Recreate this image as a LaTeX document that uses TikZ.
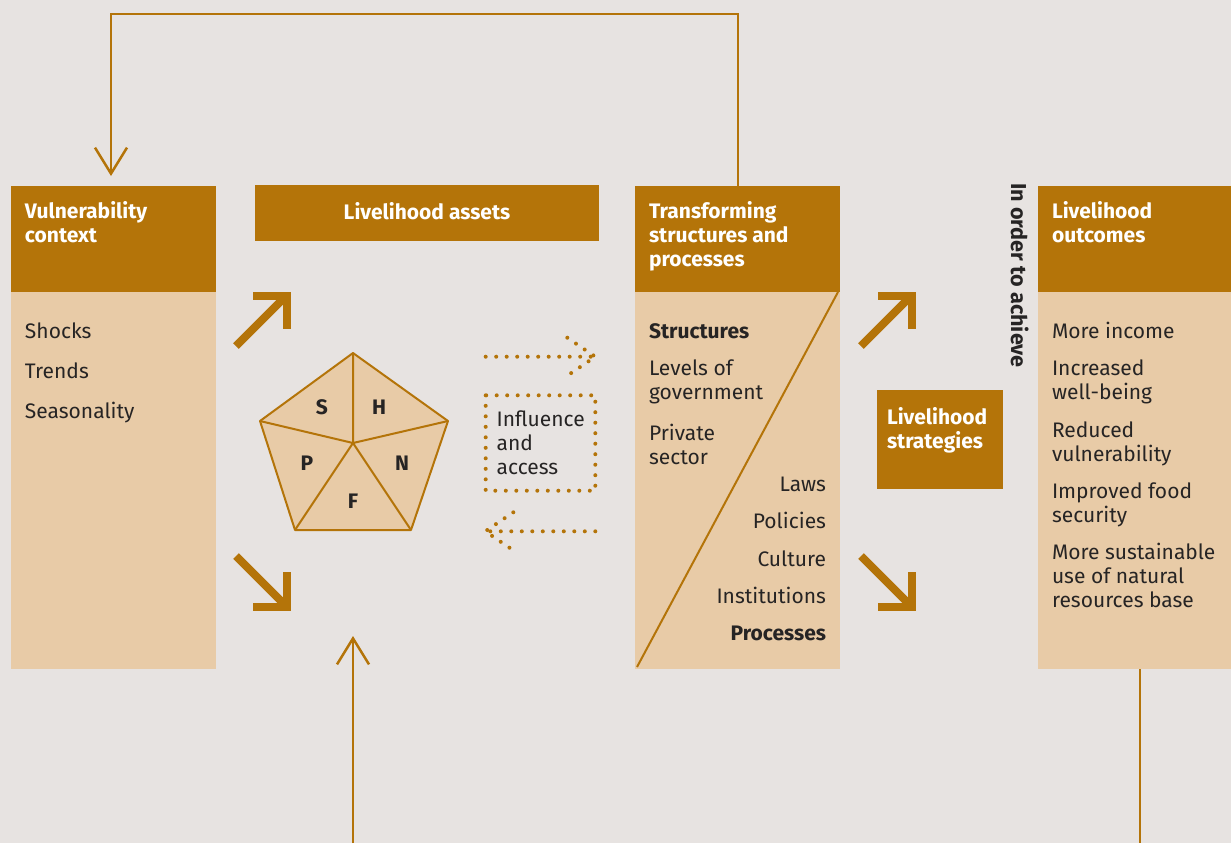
\documentclass[tikz,border=0pt]{standalone}
\usepackage{fontspec}
\setmainfont{Fira Sans}
\usetikzlibrary{arrows.meta}
\definecolor{bg}{RGB}{231,227,225}
\definecolor{dk}{RGB}{180,116,9}
\definecolor{lt}{RGB}{232,203,167}
\definecolor{tx}{RGB}{38,36,36}
\begin{document}
\begin{tikzpicture}[x=0.5pt,y=-0.5pt,
  txt/.style={anchor=north west, inner sep=0pt, outer sep=0pt, align=left, text=tx,
    font=\fontsize{10.5}{12}\selectfont, execute at begin node=\rule{0pt}{9pt}},
  rtxt/.style={txt, anchor=north east, align=right},
  btxt/.style={txt, font=\fontsize{10.5}{12}\selectfont\bfseries},
  hdr/.style={txt, text=white, font=\fontsize{10.5}{12}\selectfont\bfseries},
  fat/.style={draw=dk, line width=4pt, line join=miter, line cap=butt},
  conn/.style={draw=dk, line width=1.25pt, line join=miter},
  vtip/.style={-{Straight Barb[length=13pt,width=16pt,line width=1.25pt]}},
  dots/.style={draw=dk, line width=2pt, line cap=round, dash pattern=on 0pt off 5.25pt},
  pent/.style={draw=dk, line width=1pt, line join=round},
  plab/.style={inner sep=0pt, text=tx, font=\fontsize{10.5}{12}\selectfont\bfseries}
]
\useasboundingbox (0,0) rectangle (1231,843);
\fill[bg] (0,0) rectangle (1231,843);

% boxes
\fill[lt] (11,292) rectangle (216,669);
\fill[dk] (11,186) rectangle (216,292);
\fill[dk] (255,185) rectangle (599,241);
\fill[lt] (635,292) rectangle (840,669);
\fill[dk] (635,186) rectangle (840,292);
\fill[lt] (1038,292) rectangle (1231,669);
\fill[dk] (1038,186) rectangle (1231,292);
\fill[dk] (877,390) rectangle (1003,489);

% diagonal in transforming box
\coordinate (dA) at (838,292);
\coordinate (dB) at (637,667);
\draw[dk, line width=1pt] (dA) -- (dB);

% coordinates for connectors
\coordinate (tsTop) at (738,186);
\coordinate (loopR) at (738,14);
\coordinate (loopL) at (111,14);
\coordinate (vulIn) at (111,176);
\coordinate (botS) at (353,843);
\coordinate (assetIn) at (353,636);
\coordinate (outBot) at (1140,669);
\coordinate (outEnd) at (1140,843);

\draw[conn, vtip] (tsTop) -- (loopR) -- (loopL) -- (vulIn);
\draw[conn, vtip] (botS) -- (assetIn);
\draw[conn] (outBot) -- (outEnd);

% headers
\node[hdr] (hVul) at (25,201) {Vulnerability\\context};
\node[hdr, anchor=north] (hAss) at (427,201) {Livelihood assets};
\node[hdr] (hTs) at (649,201) {Transforming\\structures and\\processes};
\node[hdr] (hOut) at (1052,201) {Livelihood\\outcomes};
\node[hdr] (hStr) at (887,407) {Livelihood\\strategies};

% vulnerability items
\node[txt] (v1) at (25,320) {Shocks};
\node[txt] (v2) at (25,360) {Trends};
\node[txt] (v3) at (25,400) {Seasonality};

% transforming items
\node[btxt] (t1) at (649,320) {Structures};
\node[txt] (t2) at (649,360) {Levels of\\government};
\node[txt] (t3) at (649,424) {Private\\sector};
\node[rtxt] (t4) at (826,473) {Laws};
\node[rtxt] (t5) at (826,510) {Policies};
\node[rtxt] (t6) at (826,548) {Culture};
\node[rtxt] (t7) at (826,585) {Institutions};
\node[rtxt, font=\fontsize{10.5}{12}\selectfont\bfseries] (t8) at (826,622) {Processes};

% outcomes
\node[txt] (o1) at (1052,320) {More income};
\node[txt] (o2) at (1052,360) {Increased\\well-being};
\node[txt] (o3) at (1052,422) {Reduced\\vulnerability};
\node[txt] (o4) at (1052,483) {Improved food\\security};
\node[txt] (o5) at (1052,543) {More sustainable\\use of natural\\resources base};

% in order to achieve
\node[rotate=-90, anchor=base west, inner sep=0pt, text=tx, font=\fontsize{10.8}{12}\selectfont\bfseries] (ach) at (1011,183) {In order to achieve};

% thick arrows
\draw[fat] (236,346) -- (285,297);
\draw[fat] (253,296) -- (287,296) -- (287,329);
\draw[fat] (236,556) -- (285,605);
\draw[fat] (253,607) -- (287,607) -- (287,572);
\draw[fat] (861,346) -- (910,297);
\draw[fat] (878,296) -- (912,296) -- (912,329);
\draw[fat] (861,556) -- (910,605);
\draw[fat] (878,607) -- (912,607) -- (912,572);

% pentagon
\coordinate (pc) at (353,443);
\coordinate (p1) at (353,353);
\coordinate (p2) at (448,421);
\coordinate (p3) at (411,530);
\coordinate (p4) at (295,530);
\coordinate (p5) at (260,421);
\filldraw[pent, fill=lt] (p1) -- (p2) -- (p3) -- (p4) -- (p5) -- cycle;
\draw[pent] (pc) -- (p1) (pc) -- (p2) (pc) -- (p3) (pc) -- (p4) (pc) -- (p5);
\node[plab] (lS) at (322,407) {S};
\node[plab] (lH) at (379,407) {H};
\node[plab] (lP) at (307,463) {P};
\node[plab] (lN) at (402,463) {N};
\node[plab] (lF) at (353,501) {F};

% dotted arrows and box
\coordinate (r1) at (485.7,356.7);
\coordinate (r2) at (595.3,356.7);
\coordinate (rh1) at (567.3,337.7);
\coordinate (rh2) at (567.3,375.7);
\draw[dots] (r1) -- (r2);
\draw[dots] (rh1) -- (r2) -- (rh2);
\draw[dots] (485.7,395.3) rectangle (595.3,490.7);
\coordinate (l1) at (595.3,531.3);
\coordinate (l2) at (485.3,531.3);
\coordinate (lh1) at (513.3,512.3);
\coordinate (lh2) at (513.3,550.3);
\draw[dots] (l1) -- (l2);
\draw[dots] (lh1) -- (l2) -- (lh2);
\node[txt] (inf) at (496.7,411) {Influence\\and\\access};
\end{tikzpicture}
\end{document}
